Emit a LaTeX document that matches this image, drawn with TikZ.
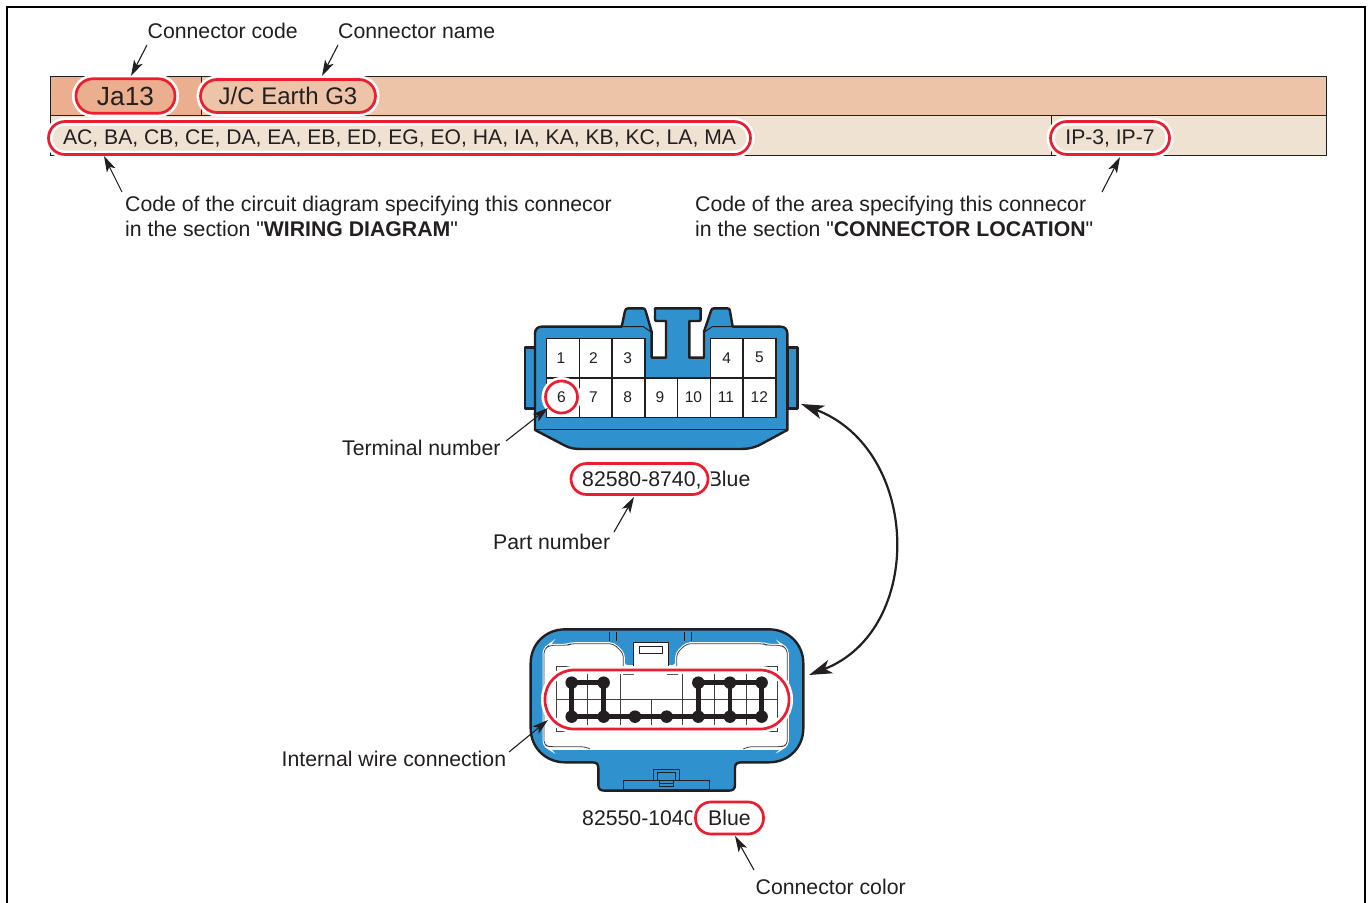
\documentclass[tikz,border=0pt]{standalone}
\usepackage{fontspec}
\setmainfont{Liberation Sans}
\newfontfamily\plainq{Liberation Sans}
\usetikzlibrary{arrows.meta}
\definecolor{ink}{HTML}{231F20}
\definecolor{rowa}{HTML}{EEC4A9}
\definecolor{cella}{HTML}{EBAE8F}
\definecolor{rowb}{HTML}{F0E2D2}
\definecolor{mark}{HTML}{ED1C2E}
\definecolor{conn}{HTML}{2F91CE}
\newcommand{\fs}[1]{\fontsize{#1}{#1}\selectfont}
\newcommand{\sq}{{\plainq\symbol{34}}}
\tikzset{
 lab/.style={anchor=base west,inner sep=0pt,text=ink,font=\fs{21.25}},
 capsule/.style={draw=mark,line width=2.7pt,rounded corners=#1,inner sep=0pt,
   preaction={draw=white,line width=8pt}},
 callout/.style={draw=ink,line width=1.1pt,-{Stealth[length=16pt,width=9.5pt,inset=4pt]}},
 body/.style={draw=ink,fill=conn,line width=2.4pt,line join=round},
 cellbox/.style={draw=ink,fill=white,line width=1.2pt,inner sep=0pt},
 digit/.style={inner sep=0pt,font=\fs{15.5},text=ink},
 grid/.style={draw=ink!85,line width=.9pt},
 wire/.style={draw=ink,line width=4.8pt},
 pin/.style={circle,fill=ink,inner sep=0pt,minimum size=12.5pt}
}
\begin{document}
\begin{tikzpicture}[x=1pt,y=-1pt]
\useasboundingbox (0,0) rectangle (1370,902);
\fill[white] (0,0) rectangle (1370,902);
\draw[black,line width=2pt] (7,903) -- (7,7) -- (1365,7) -- (1365,903);
% table
\fill[rowa] (50,76) rectangle (1326,115);
\fill[cella] (50,76) rectangle (201,115);
\fill[rowb] (50,115) rectangle (1326,155);
\draw[ink,line width=.8pt] (50,76) rectangle (1326,155);
\draw[ink,line width=.8pt] (50,115) -- (1326,115) (201,76) -- (201,115) (1051,115) -- (1051,155);
% table capsules
\node[capsule=17pt,fill=cella,minimum width=99pt,minimum height=34.5pt,text=ink,font=\fs{26.3}] (code) at (125.5,96) {Ja13};
\node[capsule=16.5pt,fill=rowa,minimum width=175pt,minimum height=33pt,text=ink,font=\fs{24}] (cname) at (288,96) {J/C Earth G3};
\node[capsule=16.5pt,minimum width=702pt,minimum height=33pt,text=ink,font=\fs{21.13}] (wiring) at (399.5,138) {AC, BA, CB, CE, DA, EA, EB, ED, EG, EO, HA, IA, KA, KB, KC, LA, MA};
\node[capsule=16.5pt,minimum width=119pt,minimum height=33pt,text=ink,font=\fs{21.13}] (area) at (1110,138) {IP-3, IP-7};
% labels
\node[lab] (lcode) at (147.5,38) {Connector code};
\node[lab] (lname) at (338,38) {Connector name};
\node[lab] (lwd) at (125,211) {Code of the circuit diagram specifying this connecor};
\node[lab] (lwd2) at (125,236) {in the section \sq\textbf{WIRING DIAGRAM}\sq};
\node[lab] (lar) at (695,211) {Code of the area specifying this connecor};
\node[lab] (lar2) at (695,236) {in the section \sq\textbf{CONNECTOR LOCATION}\sq};
% upper connector
\begin{scope}[shift={(510,295)},x=.3333pt,y=-.3333pt]
\draw[body] (45,158) -- (75,158) -- (75,340) -- (45,340) -- cycle;
\draw[body] (832,158) -- (862,158) -- (862,340) -- (832,340) -- cycle;
\draw[body] (75,405) -- (75,115) .. controls (75,103) and (83,95) .. (95,95) -- (335,95) -- (345,48) .. controls (347,42) and (349,40) .. (355,40) -- (398,40) .. controls (403,40) and (405,42) .. (407,48) -- (425,110) -- (425,188) -- (468,188) -- (468,78) -- (440,78) .. controls (436,78) and (435,76) .. (435,72) -- (435,40) -- (572,40) -- (572,72) .. controls (572,76) and (571,78) .. (567,78) -- (538,78) -- (538,188) -- (582,188) -- (582,110) -- (603,48) .. controls (605,42) and (607,40) .. (612,40) -- (652,40) .. controls (657,40) and (659,42) .. (660,48) -- (668,95) -- (812,95) .. controls (824,95) and (832,103) .. (832,115) -- (832,405) -- (745,452) .. controls (725,460) and (710,462) .. (690,462) -- (215,462) .. controls (195,462) and (180,460) .. (165,452) -- cycle;
\draw[ink,line width=1pt] (335,95) -- (400,95) -- (425,112) (582,112) -- (607,95) -- (668,95);
\draw[ink,line width=1.6pt] (75,403) -- (832,403);
\end{scope}
\foreach \n/\xa/\xb/\ya/\yb in {a/546.7/579.3/338.3/378,b/579.3/612/338.3/378,d/612/645/338.3/378,e/710.5/743/338.3/378,f/743/776/338.3/378,
 g/546.7/579.3/378/417.7,h/579.3/612/378/417.7,i/612/645/378/417.7,j/645/677.7/378/417.7,k/677.7/710.5/378/417.7,l/710.5/743/378/417.7,m/743/776/378/417.7}{
  \draw[cellbox] (\xa,\ya) rectangle (\xb,\yb);
}
\foreach \n/\cx/\cy in {1/561/357.7,2/593.4/357.7,3/627.8/357.7,4/726.7/357.7,5/759.3/357.7,
  7/593.4/397,8/627.8/397,9/660/397,10/693.4/397,11/726/397,12/759.3/397}{
  \node[digit] (d\n) at (\cx,\cy) {\n};
}
\node[capsule=16pt,minimum width=32pt,minimum height=32pt,font=\fs{15.5},text=ink] (tcirc) at (561.5,397) {6};
\node[lab] (lterm) at (342,455) {Terminal number};
% part number
\node[lab] (partblue) at (707.6,486.5) {Blue};
\node[capsule=15.5pt,fill=white,minimum width=137pt,minimum height=31pt] (part) at (639.5,479) {};
\node[lab] (partno) at (582,486.5) {82580-8740,};
\node[lab] (lpart) at (493,549) {Part number};
% lower connector
\begin{scope}[shift={(510,620)},x=.3333pt,y=-.3333pt]
\draw[body] (62,130) .. controls (62,72) and (107,28) .. (165,28) -- (777,28) .. controls (835,28) and (880,72) .. (880,130) -- (880,325) .. controls (880,383) and (835,427) .. (777,427) -- (695,427) .. controls (680,427) and (675,432) .. (675,445) -- (675,495) .. controls (675,508) and (668,512) .. (655,512) -- (285,512) .. controls (272,512) and (265,508) .. (265,495) -- (265,445) .. controls (265,432) and (260,427) .. (245,427) -- (165,427) .. controls (107,427) and (62,383) .. (62,325) -- cycle;
% cavity: white edge band, then a thin dark line
\draw[draw=white,fill=white,line width=3pt,rounded corners=4pt] (102,375) -- (102,88) -- (118,76) -- (172,76) -- (184,71) -- (310,71) -- (340,100) -- (340,140) -- (500,140) -- (500,100) -- (530,71) -- (760,71) -- (772,76) -- (815,76) -- (832,88) -- (832,375) -- (815,385) -- (240,385) -- (118,385) -- cycle;
\draw[ink!85,line width=.8pt,rounded corners=4pt] (340,140) -- (340,100) -- (310,71) -- (184,71) -- (172,76) -- (118,76) -- (102,88) -- (102,375) -- (118,380) -- (225,380) -- (240,387);
\draw[ink!85,line width=.8pt,rounded corners=4pt] (500,140) -- (500,100) -- (530,71) -- (760,71) -- (772,76) -- (815,76) -- (832,88) -- (832,375) -- (815,380) -- (715,380) -- (700,387);
\fill[white] (370,68) rectangle (475,140);
\draw[ink,line width=.9pt] (370,140) -- (370,68) -- (475,68) -- (475,140);
\draw[ink,line width=.9pt] (387,80) rectangle (458,100);
\draw[ink,line width=1pt] (300,36) -- (300,62) (320,36) -- (320,62) (525,36) -- (525,62) (545,36) -- (545,62);
% grid
\draw[grid] (138,140) -- (330,140) (518,140) -- (803,140) (138,335) -- (803,335) (138,237) -- (803,237);
\draw[grid] (340,162) -- (372,162) (470,162) -- (505,162);
\draw[grid] (138,140) -- (138,335) (803,140) -- (803,335) (423,237) -- (423,335);
\foreach \gx in {233,330,518,612,708}{\draw[grid] (\gx,140) -- (\gx,335);}
% bottom clip
\draw[ink,line width=1pt] (340,482) rectangle (600,510);
\draw[ink,line width=1pt] (432,482) -- (432,450) -- (508,450) -- (508,482);
\draw[ink,line width=1pt] (442,482) -- (442,458) -- (498,458) -- (498,482);
\draw[ink,line width=1pt] (450,482) rectangle (490,500);
\draw[ink,line width=1pt] (450,490) -- (490,490);
% pins
\node[pin] (pa) at (185,188) {};
\node[pin] (pb) at (281,188) {};
\node[pin] (pc) at (565,188) {};
\node[pin] (pd) at (660,188) {};
\node[pin] (pe) at (755,188) {};
\node[pin] (qa) at (185,290) {};
\node[pin] (qb) at (281,290) {};
\node[pin] (qc) at (375,290) {};
\node[pin] (qd) at (470,290) {};
\node[pin] (qe) at (565,290) {};
\node[pin] (qf) at (660,290) {};
\node[pin] (qg) at (755,290) {};
\draw[wire] (pa.center) -- (pb.center) -- (qb.center) -- (qa.center) -- cycle (qb.center) -- (qg.center) -- (pe.center) -- (pc.center) -- (qe.center) (pd.center) -- (qf.center);
\end{scope}
\node[capsule=29pt,minimum width=244pt,minimum height=59pt] (wirecap) at (667,699.5) {};
\node[lab] (lwire) at (281.5,766) {Internal wire connection};
\node[lab] (cfull) at (582,825) {82550-1040};
\node[capsule=15.5pt,fill=white,minimum width=68pt,minimum height=32pt,text=ink,font=\fs{21.25}] (blue) at (729.5,818) {Blue};
\node[lab] (lcol) at (755.5,894) {Connector color};
% callouts
\coordinate (a1) at (147,45); \coordinate (a2) at (131,76);
\coordinate (b1) at (338,45); \coordinate (b2) at (322,76);
\coordinate (d1) at (122,192); \coordinate (d2) at (104,156);
\coordinate (e1) at (1102,192); \coordinate (e2) at (1120,157);
\coordinate (f1) at (506,441); \coordinate (f2) at (548,408);
\coordinate (g1) at (614,532); \coordinate (g2) at (634,497);
\coordinate (h1) at (509,752); \coordinate (h2) at (548,720);
\coordinate (i1) at (754,870); \coordinate (i2) at (735,836);
\coordinate (j1) at (801,404); \coordinate (j2) at (809,675);
\foreach \p/\q in {a1/a2,b1/b2,d1/d2,e1/e2,f1/f2,g1/g2,h1/h2,i1/i2}{\draw[callout] (\p) -- (\q);}
\draw[draw=ink,line width=2.2pt,{Stealth[length=23pt,width=14pt,inset=6pt]}-{Stealth[length=23pt,width=14pt,inset=6pt]}] (j1) .. controls (921,450) and (925,630) .. (j2);
\end{tikzpicture}
\end{document}
